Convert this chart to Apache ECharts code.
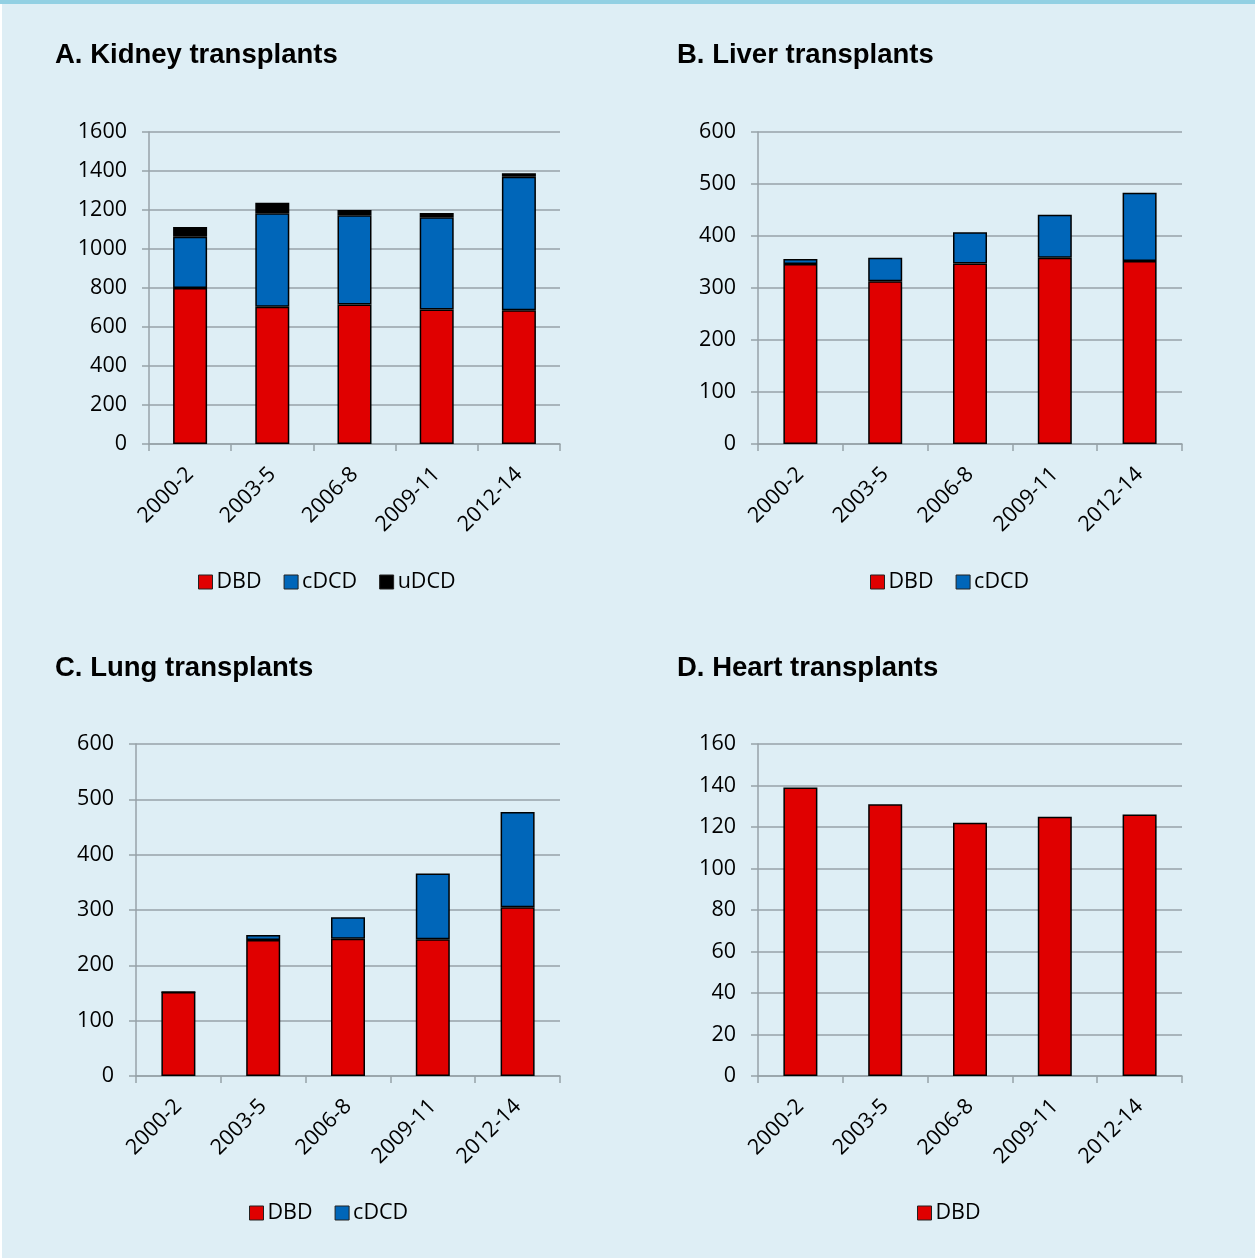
<!DOCTYPE html>
<html><head><meta charset="utf-8">
<script src="https://cdn.jsdelivr.net/npm/echarts@6/dist/echarts.min.js"></script>
<style>html,body{margin:0;padding:0;background:#deeef5;}#c{width:1255px;height:1258px;}</style>
</head><body><div id="c"></div>
<script>
const categories = ['2000-2', '2003-5', '2006-8', '2009-11', '2012-14'];
const kidneyDBD  = [800, 704, 716, 690, 686];
const kidneyCDCD = [263, 479, 457, 473, 685];
const kidneyUDCD = [50, 54, 27, 22, 17];
const liverDBD   = [346, 313, 347, 358, 352];
const liverCDCD  = [10, 45, 60, 83, 131];
const lungDBD    = [152, 246, 248, 247, 305];
const lungCDCD   = [0, 9, 39, 119, 172];
const heartDBD   = [139, 131, 122, 125, 126];

const titles = ['A. Kidney transplants', 'B. Liver transplants', 'C. Lung transplants', 'D. Heart transplants'];
const yMax = [1600, 600, 600, 160];
const yStep = [200, 100, 100, 20];

const RED = '#e00000', BLUE = '#0066b9', BLACK = '#000000';
const GRAY = '#97a2a8';
const FONT = 'Open Sans';
const FS = 21.5;

const grids = [
  {left: 149, top: 132, width: 411, height: 312},
  {left: 758, top: 132, width: 424, height: 312},
  {left: 136, top: 744, width: 424, height: 332},
  {left: 758, top: 744, width: 424, height: 332}
];
const titlePos = [[55, 41], [677, 41], [55, 654], [677, 654]];

function xAxis(i) {
  return {
    type: 'category', gridIndex: i, data: categories, boundaryGap: true,
    axisLine: {show: true, lineStyle: {color: GRAY, width: 1.5}},
    axisTick: {show: true, length: 7, lineStyle: {color: GRAY, width: 1.5}},
    axisLabel: {rotate: 45, fontSize: FS, color: '#000', fontFamily: FONT, margin: 27, interval: 0},
    splitLine: {show: false}
  };
}
function yAxis(i) {
  return {
    type: 'value', gridIndex: i, min: 0, max: yMax[i], interval: yStep[i],
    axisLine: {show: true, lineStyle: {color: GRAY, width: 1.5}},
    axisTick: {show: true, length: 7, lineStyle: {color: GRAY, width: 1.5}},
    axisLabel: {fontSize: FS, color: '#000', fontFamily: FONT, margin: 22, formatter: v => String(v)},
    splitLine: {show: true, lineStyle: {color: GRAY, width: 1.5}}
  };
}
function bar(name, data, color, i) {
  return {
    name: name, type: 'bar', data: data, xAxisIndex: i, yAxisIndex: i, stack: 's' + i,
    barWidth: 34,
    itemStyle: {color: color, borderColor: '#000', borderWidth: 1.5},
    emphasis: {disabled: true}
  };
}
function legend(left, names) {
  return {
    left: left, top: 571, data: names, padding: 0, itemGap: 22,
    itemWidth: 14, itemHeight: 14, icon: 'rect',
    itemStyle: {borderColor: '#222', borderWidth: 1},
    textStyle: {fontSize: FS, color: '#000', fontFamily: FONT, padding: [0, 0, 0, -1]}
  };
}

const chart = echarts.init(document.getElementById('c'), null, {renderer: 'canvas'});
const legA = legend(198, ['DBD', 'cDCD', 'uDCD']);
const legB = legend(870, ['DBD', 'cDCD']);
const legC = legend(249, ['DBD', 'cDCD']); legC.top = 1202;
const legD = legend(917, ['DBD']); legD.top = 1202;

chart.setOption({
  backgroundColor: '#deeef5',
  animation: false,
  textStyle: {fontFamily: FONT},
  title: titles.map((t, i) => ({
    text: t, left: titlePos[i][0], top: titlePos[i][1], padding: 0,
    textStyle: {fontFamily: 'Liberation Sans', fontWeight: 'bold', fontSize: 27.5, color: '#000'}
  })),
  legend: [legA, legB, legC, legD],
  grid: grids,
  xAxis: [0, 1, 2, 3].map(xAxis),
  yAxis: [0, 1, 2, 3].map(yAxis),
  series: [
    bar('DBD', kidneyDBD, RED, 0),
    bar('cDCD', kidneyCDCD, BLUE, 0),
    bar('uDCD', kidneyUDCD, BLACK, 0),
    bar('DBD', liverDBD, RED, 1),
    bar('cDCD', liverCDCD, BLUE, 1),
    bar('DBD', lungDBD, RED, 2),
    bar('cDCD', lungCDCD, BLUE, 2),
    bar('DBD', heartDBD, RED, 3)
  ],
  graphic: [
    {type: 'rect', left: 0, top: 0, shape: {width: 1255, height: 4}, style: {fill: '#92d0e3'}, silent: true},
    {type: 'rect', left: 0, top: 4, shape: {width: 2, height: 1254}, style: {fill: '#ffffff'}, silent: true}
  ]
});
</script>
</body></html>
